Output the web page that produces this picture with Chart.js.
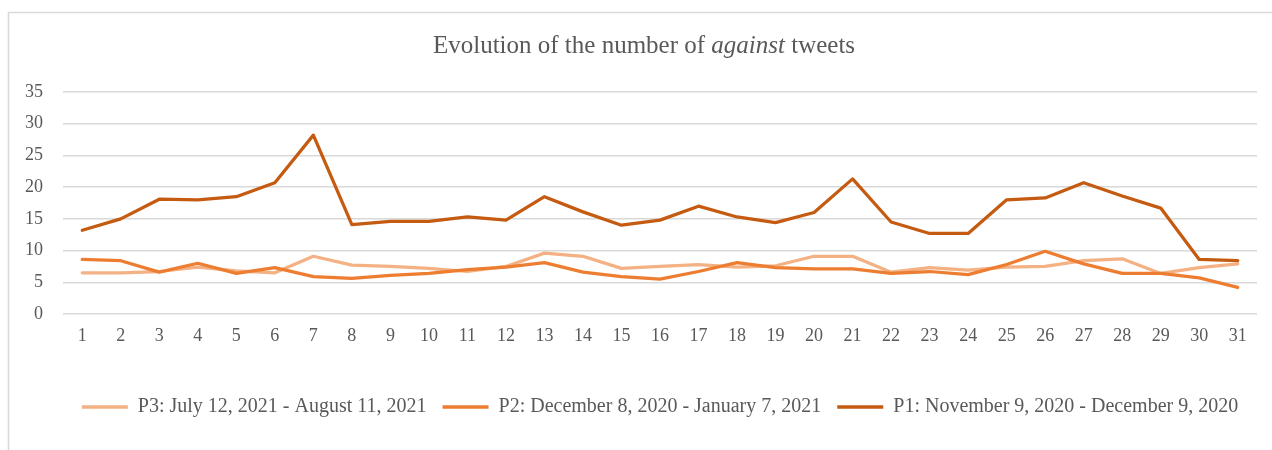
<!DOCTYPE html>
<html>
<head>
<meta charset="utf-8">
<title>Evolution of the number of against tweets</title>
<script src="https://cdn.jsdelivr.net/npm/chart.js@4/dist/chart.umd.min.js"></script>
<style>
  html, body { margin: 0; padding: 0; background: #ffffff; }
  #wrap { position: relative; width: 1272px; height: 450px; }
  canvas { display: block; }
</style>
</head>
<body>
<div id="wrap"><canvas id="chart" width="1272" height="450"></canvas></div>
<script>
// Day index within each 31-day period
const days = ['1','2','3','4','5','6','7','8','9','10','11','12','13','14','15','16','17','18','19','20','21','22','23','24','25','26','27','28','29','30','31'];

// Number of "against" tweets per day, one array per period
const p3Values = [6.5, 6.5, 6.7, 7.4, 6.8, 6.5, 9.1, 7.7, 7.5, 7.2, 6.7, 7.5, 9.6, 9.1, 7.2, 7.5, 7.8, 7.4, 7.6, 9.1, 9.1, 6.6, 7.3, 6.9, 7.4, 7.5, 8.4, 8.7, 6.4, 7.3, 7.9];
const p2Values = [8.6, 8.4, 6.6, 8.0, 6.4, 7.3, 5.9, 5.6, 6.1, 6.4, 7.0, 7.4, 8.1, 6.6, 5.9, 5.5, 6.7, 8.1, 7.3, 7.1, 7.1, 6.4, 6.7, 6.2, 7.8, 9.9, 7.9, 6.4, 6.4, 5.7, 4.2];
const p1Values = [13.2, 15.0, 18.1, 18.0, 18.5, 20.7, 28.2, 14.1, 14.6, 14.6, 15.3, 14.8, 18.5, 16.1, 14.0, 14.8, 17.0, 15.3, 14.4, 16.0, 21.3, 14.5, 12.7, 12.7, 18.0, 18.3, 20.7, 18.6, 16.7, 8.6, 8.4];

const seriesLabels = [
  'P3: July 12, 2021 - August 11, 2021',
  'P2: December 8, 2020 - January 7, 2021',
  'P1: November 9, 2020 - December 9, 2020'
];

// Title pieces: the word "against" is set in italics
const titleParts = [
  { text: 'Evolution of the number of ', italic: false },
  { text: 'against', italic: true },
  { text: ' tweets', italic: false }
];

const FONT = '"Liberation Serif", "Times New Roman", serif';
const TEXT_COLOR = '#595959';
const GRID_COLOR = '#D9D9D9';

// Frame lines along the top and left edge of the chart object
const framePlugin = {
  id: 'frame',
  beforeDraw(chart) {
    const ctx = chart.ctx;
    ctx.save();
    ctx.fillStyle = '#ffffff';
    ctx.fillRect(0, 0, chart.width, chart.height);
    ctx.strokeStyle = GRID_COLOR;
    ctx.lineWidth = 1.6;
    ctx.beginPath();
    ctx.moveTo(8.5, chart.height);
    ctx.lineTo(8.5, 12.5);
    ctx.lineTo(chart.width, 12.5);
    ctx.stroke();
    ctx.restore();
  }
};

// Title with a mixed upright / italic run
const titlePlugin = {
  id: 'mixedTitle',
  afterDraw(chart) {
    const ctx = chart.ctx;
    const size = 25;
    ctx.save();
    ctx.fillStyle = TEXT_COLOR;
    ctx.textBaseline = 'alphabetic';
    ctx.textAlign = 'left';
    const fontFor = p => (p.italic ? 'italic ' : '') + size + 'px ' + FONT;
    let total = 0;
    titleParts.forEach(p => { ctx.font = fontFor(p); total += ctx.measureText(p.text).width; });
    let x = 644 - total / 2;
    titleParts.forEach(p => {
      ctx.font = fontFor(p);
      ctx.fillText(p.text, x, 53);
      x += ctx.measureText(p.text).width;
    });
    ctx.restore();
  }
};

const colors = ['#F4B183', '#ED7D31', '#C55A11'];
const values = [p3Values, p2Values, p1Values];

const datasets = values.map((v, i) => ({
  label: seriesLabels[i],
  data: v,
  borderColor: colors[i],
  backgroundColor: colors[i],
  borderWidth: 3.25,
  pointRadius: 0,
  pointHoverRadius: 0,
  tension: 0,
  borderJoinStyle: 'round',
  borderCapStyle: 'round',
  fill: false,
  order: 2 - i
}));

new Chart(document.getElementById('chart'), {
  type: 'line',
  data: { labels: days, datasets: datasets },
  plugins: [framePlugin, titlePlugin],
  options: {
    responsive: false,
    animation: false,
    layout: { padding: { top: 92, left: 0, right: 15, bottom: 23 } },
    plugins: {
      title: { display: false },
      tooltip: { enabled: false },
      legend: {
        display: true,
        position: 'bottom',
        fullSize: false,
        labels: {
          color: TEXT_COLOR,
          font: { family: FONT, size: 20 },
          boxWidth: 46,
          boxHeight: 3.5,
          padding: 16,
          sort: (a, b) => a.datasetIndex - b.datasetIndex,
          generateLabels(chart) {
            return chart.data.datasets.map((ds, i) => ({
              text: ds.label,
              fillStyle: ds.borderColor,
              strokeStyle: ds.borderColor,
              lineWidth: 0,
              fontColor: TEXT_COLOR,
              datasetIndex: i,
              hidden: false
            }));
          }
        }
      }
    },
    scales: {
      x: {
        offset: true,
        grid: { display: false, drawTicks: false },
        border: { display: false },
        ticks: {
          color: TEXT_COLOR,
          font: { family: FONT, size: 18 },
          padding: 11,
          maxRotation: 0,
          autoSkip: false
        },
        afterFit(scale) { scale.height = 67; }
      },
      y: {
        min: 0,
        max: 35,
        grid: { color: GRID_COLOR, lineWidth: 1.5, drawTicks: false },
        border: { display: false },
        ticks: {
          stepSize: 5,
          color: TEXT_COLOR,
          font: { family: FONT, size: 18 },
          padding: 20
        },
        afterFit(scale) { scale.width = 63; }
      }
    }
  }
});
</script>
</body>
</html>
